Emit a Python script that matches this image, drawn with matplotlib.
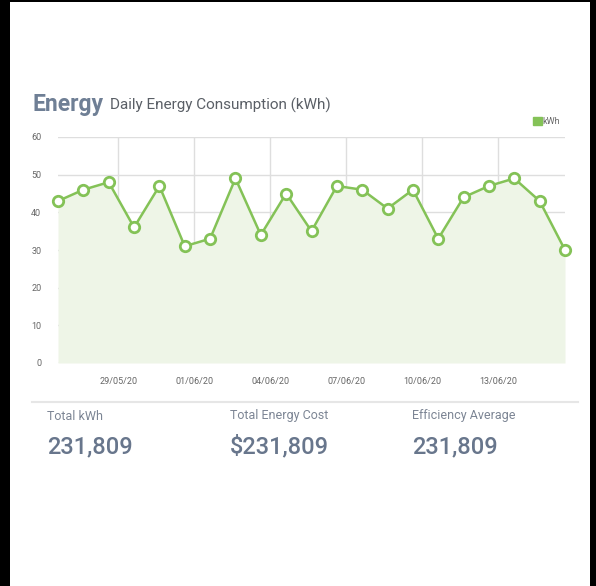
import matplotlib
matplotlib.use("Agg")
import matplotlib.pyplot as plt
import matplotlib.dates as mdates
import matplotlib.patches as mpatches
import pandas as pd

plt.rcParams['font.family'] = ['Roboto', 'DejaVu Sans']

dates = ["2020-05-26 15:00", "2020-05-27 15:00", "2020-05-28 15:00", "2020-05-29 15:00",
         "2020-05-30 15:00", "2020-05-31 15:00", "2020-06-01 15:00", "2020-06-02 15:00",
         "2020-06-03 15:00", "2020-06-04 15:00", "2020-06-05 15:00", "2020-06-06 15:00",
         "2020-06-07 15:00", "2020-06-08 15:00", "2020-06-09 15:00", "2020-06-10 15:00",
         "2020-06-11 15:00", "2020-06-12 15:00", "2020-06-13 15:00", "2020-06-14 15:00",
         "2020-06-15 15:00"]
kwh = [43, 46, 48, 36, 47, 31, 33, 49, 34, 45, 35, 47, 46, 41, 46, 33, 44, 47, 49, 43, 30]
tick_dates = ["2020-05-29", "2020-06-01", "2020-06-04", "2020-06-07", "2020-06-10", "2020-06-13"]
yticks = [0, 10, 20, 30, 40, 50, 60]
stat_labels = ["Total kWh", "Total Energy Cost", "Efficiency Average"]
stat_values = ["231,809", "$231,809", "231,809"]

x = pd.to_datetime(dates)
xt = pd.to_datetime(tick_dates)

W, H = 596, 586
fig = plt.figure(figsize=(W / 100, H / 100), dpi=100, facecolor='black')

# white card
card = mpatches.Rectangle((10 / W, 0), 580 / W, 1 - 2 / H, transform=fig.transFigure,
                          facecolor='white', edgecolor='none', zorder=-10)
fig.patches.append(card)

green = '#84c257'
ax = fig.add_axes([58 / W, 1 - 363 / H, 507 / W, 226 / H])
ax.set_zorder(5)
ax.set_facecolor('none')
ax.fill_between(x, kwh, 0, color='#eef5e7', zorder=1, linewidth=0)
ax.plot(x, kwh, color=green, linewidth=1.8, marker='o', markersize=7.5,
        markerfacecolor='white', markeredgecolor=green, markeredgewidth=2, zorder=3,
        clip_on=False)
ax.set_xlim(x[0], x[-1])
ax.set_ylim(0, 60)
ax.set_yticks(yticks)
ax.set_xticks(xt)
ax.xaxis.set_major_formatter(mdates.DateFormatter('%d/%m/%y'))
ax.grid(True, color='#dedede', linewidth=1, zorder=0)
ax.set_axisbelow(True)
for s in ax.spines.values():
    s.set_visible(False)
ax.tick_params(axis='both', length=0, labelsize=6.5, colors='#666666')
ax.tick_params(axis='y', pad=12)
ax.tick_params(axis='x', pad=10)

# title
fig.text(32 / W, 1 - 104 / H, "Energy", fontsize=16.5, fontweight='bold', color='#6f7f95',
         va='center', ha='left')
fig.text(110 / W, 1 - 105 / H, "Daily Energy Consumption (kWh)", fontsize=11,
         color='#5a5f66', va='center', ha='left')

# legend
leg = ax.legend(handles=[mpatches.Patch(color=green, label='kWh')], loc='lower right',
                bbox_to_anchor=(1.0, 1.03), frameon=False, fontsize=6.5,
                handlelength=1.0, handleheight=1.0, handletextpad=0.1, borderpad=0)
for t in leg.get_texts():
    t.set_color('#666666')

# separator line
fig.add_artist(plt.Line2D([32 / W, 578 / W], [1 - 402 / H, 1 - 402 / H],
                          transform=fig.transFigure, color='#e6e6e6', linewidth=1.5))

xs = [47, 230, 412]
for xp, lab, val in zip(xs, stat_labels, stat_values):
    fig.text(xp / W, 1 - 416 / H, lab, fontsize=9, color='#7c8594', va='center', ha='left')
    fig.text(xp / W, 1 - 447 / H, val, fontsize=17, color='#68768c', va='center', ha='left',
             fontweight='medium')

fig.savefig('out.png', dpi=100, facecolor='black')
